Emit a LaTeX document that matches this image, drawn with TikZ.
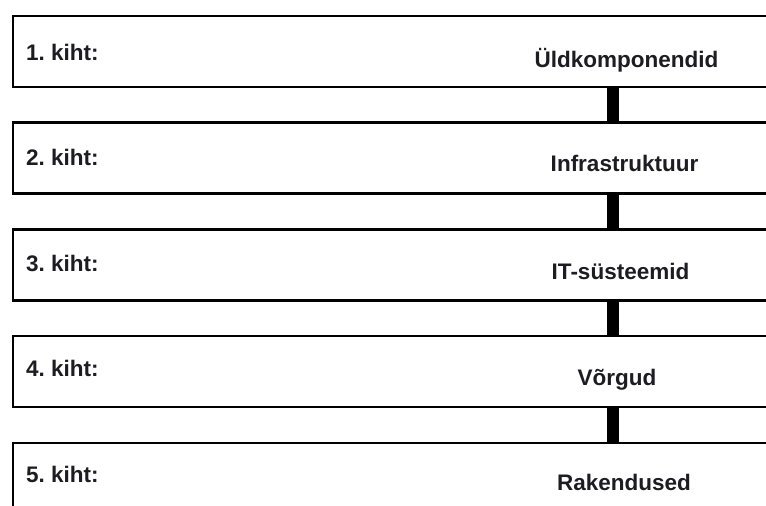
\documentclass[tikz,border=0pt]{standalone}
\usepackage{fontspec}
\setmainfont{Liberation Sans}
\usetikzlibrary{positioning, calc}
\definecolor{LayerText}{RGB}{28,28,34}
\frenchspacing

\begin{document}
\begin{tikzpicture}[x=1pt, y=-1pt,
    layer/.style={draw, line width=2.6pt, minimum width=820pt, minimum height=71pt,
                  anchor=north west, inner sep=0pt, outer sep=0pt},
    tag/.style={anchor=base west, inner sep=0pt, text=LayerText,
                font=\fontsize{22.5}{26}\selectfont\bfseries},
    title/.style={anchor=base, inner sep=0pt, text=LayerText,
                  font=\fontsize{22.5}{26}\selectfont\bfseries},
    link/.style={line width=12pt}]
  \useasboundingbox (0,0) rectangle (766,506);
  \clip (0,0) rectangle (766,506);
  \coordinate (axis) at (613,0);
  % the five layers
  \node[layer] (layer1) at (13,16) {};
  \node[layer] (layer2) at (13,122.5) {};
  \node[layer] (layer3) at (13,229.5) {};
  \node[layer] (layer4) at (13,336) {};
  \node[layer] (layer5) at (13,443) {};
  % links between the layers
  \draw[link] (layer1.south -| axis) -- (layer2.north -| axis);
  \draw[link] (layer2.south -| axis) -- (layer3.north -| axis);
  \draw[link] (layer3.south -| axis) -- (layer4.north -| axis);
  \draw[link] (layer4.south -| axis) -- (layer5.north -| axis);
  % labels
  \node[tag] (tag1) at (26,60) {1. kiht:};
  \node[tag] (tag2) at (26,165.5) {2. kiht:};
  \node[tag] (tag3) at (26,271) {3. kiht:};
  \node[tag] (tag4) at (26,376.5) {4. kiht:};
  \node[tag] (tag5) at (26,482) {5. kiht:};
  \node[title] (title1) at (626.5,67) {Üldkomponendid};
  \node[title] (title2) at (624.5,171) {Infrastruktuur};
  \node[title] (title3) at (620.5,279) {IT-süsteemid};
  \node[title] (title4) at (617,385) {Võrgud};
  \node[title] (title5) at (624,490) {Rakendused};
\end{tikzpicture}
\end{document}
